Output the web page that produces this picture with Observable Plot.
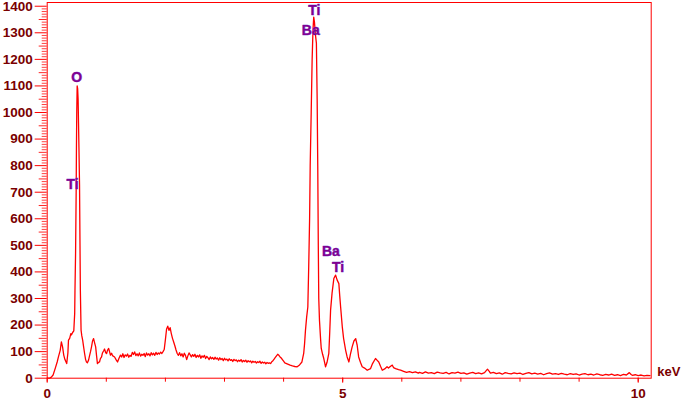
<!DOCTYPE html>
<html><head><meta charset="utf-8">
<script src="https://cdn.jsdelivr.net/npm/d3@7"></script>
<script src="https://cdn.jsdelivr.net/npm/@observablehq/plot@0.6"></script>
<style>body{margin:0;background:#fff}</style>
</head><body><div id="chart"></div>
<script>
// EDS spectrum: energy (keV) and counts
const energy = [
0.00,0.04,0.07,0.10,0.14,0.17,0.19,0.22,0.24,0.26,0.28,0.30,0.33,0.35,0.36,0.38,0.40,0.41,0.43,0.45,
0.455,0.465,0.47,0.48,0.49,0.495,0.50,0.507,0.515,0.523,0.53,0.537,0.547,0.555,0.561,0.573,0.585,0.60,0.615,0.632,
0.65,0.665,0.68,0.70,0.717,0.733,0.75,0.767,0.785,0.80,0.82,0.835,0.85,0.87,0.885,0.90,0.92,0.935,0.96,0.97,
0.99,1.005,1.02,1.04,1.055,1.07,1.09,1.105,1.14,1.17,1.19,1.215,1.24,1.26,1.28,1.30,1.32,1.34,1.36,1.38,
1.40,1.42,1.44,1.46,1.48,1.50,1.52,1.54,1.56,1.58,1.60,1.62,1.64,1.66,1.68,1.70,1.72,1.74,1.76,1.78,
1.80,1.82,1.84,1.86,1.88,1.90,1.92,1.94,1.96,1.98,2.00,2.02,2.04,2.06,2.08,2.10,2.12,2.14,2.16,2.18,
2.20,2.22,2.24,2.26,2.28,2.30,2.32,2.34,2.36,2.38,2.40,2.42,2.44,2.46,2.48,2.50,2.52,2.54,2.56,2.58,
2.60,2.62,2.64,2.66,2.68,2.70,2.72,2.74,2.76,2.78,2.80,2.82,2.84,2.86,2.88,2.90,2.92,2.94,2.96,2.98,
3.00,3.02,3.04,3.06,3.08,3.10,3.12,3.14,3.16,3.18,3.20,3.22,3.24,3.26,3.28,3.30,3.32,3.34,3.36,3.38,
3.40,3.42,3.44,3.46,3.48,3.50,3.52,3.54,3.56,3.58,3.60,3.62,3.64,3.66,3.68,3.70,3.72,3.74,3.76,3.78,
3.80,3.82,3.84,3.86,3.88,3.90,3.92,3.94,3.96,3.98,4.00,4.02,4.05,4.08,4.11,4.15,4.19,4.23,4.27,4.31,
4.34,4.355,4.37,4.39,4.41,4.425,4.44,4.45,4.467,4.483,4.497,4.51,4.522,4.54,4.555,4.568,4.578,4.587,4.595,4.607,
4.625,4.637,4.66,4.68,4.71,4.735,4.765,4.78,4.795,4.82,4.85,4.88,4.905,4.935,4.95,4.965,4.993,5.015,5.05,5.075,
5.105,5.13,5.16,5.19,5.22,5.245,5.27,5.30,5.33,5.37,5.415,5.47,5.505,5.555,5.58,5.61,5.64,5.67,5.71,5.75,
5.775,5.81,5.84,5.86,5.895,5.945,5.98,6.03,6.08,6.13,6.18,6.23,6.28,
6.30,6.35,6.40,6.45,6.50,6.55,6.60,6.65,6.70,6.75,6.80,6.85,6.90,6.95,7.00,7.05,7.10,7.15,7.20,7.25,
7.30,7.35,7.40,7.45,7.48,7.50,7.55,7.60,7.65,7.70,7.75,7.80,7.85,7.90,7.95,8.00,8.05,8.10,8.15,8.20,
8.25,8.30,8.35,8.40,8.45,8.50,8.55,8.60,8.65,8.70,8.75,8.80,8.85,8.90,8.95,9.00,9.05,9.10,9.15,9.20,
9.25,9.30,9.35,9.40,9.45,9.50,9.55,9.60,9.65,9.70,9.75,9.80,9.85,9.88,9.90,9.95,10.00,10.05,10.10,10.15,10.20
];
const counts = [
0,0,4,12,40,62,80,105,137,118,87,70,55,95,143,150,168,163,172,178,
200,243,330,469,700,870,1000,1100,1090,1050,960,870,730,500,331,181,160,143,120,94,
70,61,58,68,85,100,118,140,149,135,118,85,55,60,61,74,80,95,105,110,
96,93,105,112,100,87,94,85,80,68,61,75,87,80,92,78,88,83,91,79,
86,82,97,89,99,85,92,84,95,83,90,86,93,81,95,87,92,84,96,88,
94,86,97,89,95,91,98,93,100,108,145,185,196,180,190,168,150,136,122,106,
93,86,96,84,92,80,94,86,70,84,95,88,80,89,82,90,78,86,80,88,
75,84,79,86,74,82,77,70,80,73,78,71,79,72,76,68,77,70,74,66,
75,69,72,65,73,67,70,63,71,66,69,62,68,64,70,61,67,63,68,60,
66,62,65,58,64,60,63,57,62,59,64,56,61,57,60,54,59,56,58,55,
62,66,72,78,84,90,86,80,76,70,64,58,55,52,49,46,44,43,50,61,
93,130,180,230,268,420,600,800,1000,1200,1310,1359,1340,1290,1261,1046,800,500,300,218,
150,112,90,74,43,60,93,170,256,320,375,388,370,356,310,268,193,150,105,80,
61,90,118,140,149,124,80,60,43,38,30,36,55,74,68,61,45,30,35,43,
38,45,49,40,36,32,30,26,22,25,21,24,19,
22,18,24,19,21,17,23,20,18,22,16,21,19,23,18,20,15,19,22,17,
20,16,21,34,26,19,22,17,20,15,21,18,16,20,17,19,14,18,21,16,
19,15,18,13,17,20,15,17,14,18,15,13,17,14,16,12,15,17,13,15,
12,16,13,11,14,12,15,11,13,10,14,12,21,14,11,13,10,12,9,11,10
];

// axis ticks and labels
const yTickValues = [0,100,200,300,400,500,600,700,800,900,1000,1100,1200,1300,1400];
const xTickLabels = [0,5,10];
const xMinorTicks = [0,1,2,3,4,5,6,7,8,9,10];
const axisTitle = "keV";

// peak annotations
const peakText   = ["O", "Ti", "Ti", "Ba", "Ba", "Ti"];
const peakEnergy = [0.50, 0.43, 4.52, 4.46, 4.80, 4.92];
const peakCounts = [1130, 729, 1384, 1307, 477, 418];

const spectrum = energy.map((e, i) => ({e, c: counts[i]}));
const peaks = peakText.map((t, i) => ({t, e: peakEnergy[i], c: peakCounts[i]}));
const yMinor10 = d3.range(0, 1401, 10).filter(v => v % 50 !== 0);
const yMinor50 = d3.range(50, 1401, 100);

const red = "#ff0000";
const dark = "#7a0000";
const chart = Plot.plot({
  width: 685, height: 400,
  marginLeft: 46.7, marginRight: 34.3, marginTop: 2, marginBottom: 22.3,
  x: {domain: [0, 10.22], axis: null},
  y: {domain: [0, 1414], axis: null},
  style: {fontFamily: "'Liberation Sans', Arial, sans-serif", background: "#fff"},
  marks: [
    Plot.axisY({ticks: yMinor10, tickSize: 5, fill: "none", stroke: red, strokeOpacity: 0.75, label: null}),
    Plot.axisY({ticks: yMinor50, tickSize: 8, fill: "none", stroke: red, strokeOpacity: 0.85, label: null}),
    Plot.axisY({ticks: yTickValues, tickSize: 12, tickPadding: 2.5, stroke: red, fill: dark,
      fontSize: 13.5, fontWeight: "bold", tickFormat: d => String(d), label: null}),
    Plot.axisX({ticks: xMinorTicks, tickSize: 4, fill: "none", stroke: red, label: null}),
    Plot.axisX({ticks: xTickLabels, tickSize: 5, tickPadding: 5.5, stroke: red, fill: dark,
      fontSize: 13.5, fontWeight: "bold", tickFormat: d => String(d), label: null}),
    Plot.frame({stroke: red}),
    Plot.line(spectrum, {x: "e", y: "c", stroke: red, strokeWidth: 1.3}),
    Plot.text(peaks, {x: "e", y: "c", text: "t", fill: "#800090", stroke: "#5a2dd0", strokeWidth: 0.5,
      fontWeight: "bold", fontSize: 14}),
    Plot.text([axisTitle], {frameAnchor: "bottom-right", text: d => d, textAnchor: "start", lineAnchor: "bottom",
      dx: 6, dy: -2, fill: dark, fontWeight: "bold", fontSize: 13})
  ]
});
document.getElementById("chart").appendChild(chart);
</script>
</body></html>
